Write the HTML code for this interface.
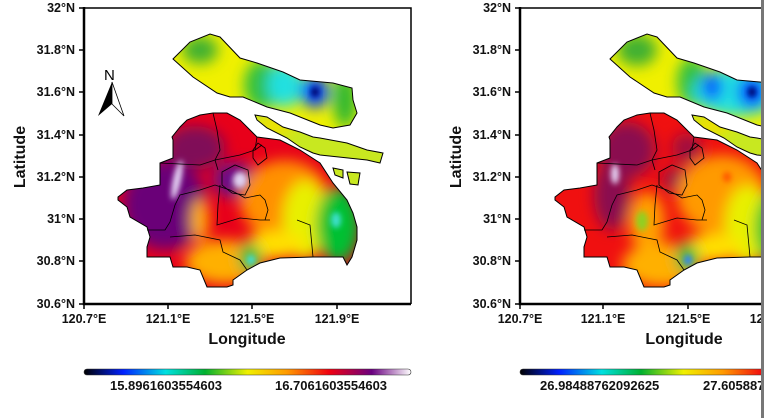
<!DOCTYPE html>
<html><head><meta charset="utf-8"><style>
html,body{margin:0;padding:0;background:#fff;}
svg{display:block;font-family:"Liberation Sans",Arial,sans-serif;}
.t{font-size:12.5px;font-weight:bold;fill:#111;}
.c{font-size:13px;font-weight:bold;fill:#111;}
.ax{font-size:16px;font-weight:bold;fill:#111;}
</style></head><body>
<svg width="764" height="418" viewBox="0 0 764 418" xmlns="http://www.w3.org/2000/svg">
<defs>
<filter id="bl" x="-50%" y="-50%" width="200%" height="200%"><feGaussianBlur stdDeviation="7"/></filter>
<filter id="bl2" x="-50%" y="-50%" width="200%" height="200%"><feGaussianBlur stdDeviation="3"/></filter>
<path id="main" d="M118,197 L127,190 143,188 160,185 160,163 173,158 173,140 172,137 180,127 187,120 200,115 213,113 227,113 240,120 257,137 280,140 300,150 320,163 333,183 347,200 353,213 357,227 357,240 352,257 347,265 343,257 313,257 280,258 260,263 247,270 233,280 233,285 227,287 207,287 200,270 187,267 173,267 170,257 160,257 147,257 147,247 150,237 147,227 130,217 127,207 118,200Z"/>
<path id="chong" d="M173,59 L190,42 210,34 220,37 240,58 257,63 283,72 300,80 333,83 352,88 353,100 357,113 350,125 333,128 320,125 290,113 267,107 243,97 230,97 217,93 193,77Z"/>
<path id="strip" d="M255,115 L267,117 283,127 300,132 313,137 320,138 347,143 367,150 383,153 380,163 367,160 320,155 313,153 300,147 287,138 267,128 257,120Z"/>
<path id="isl" d="M333,168 L343,170 343,178 335,175Z M347,172 L360,173 358,185 350,184Z"/>
<clipPath id="cm"><use href="#main"/></clipPath>
<clipPath id="cc"><use href="#chong"/></clipPath>
<clipPath id="cs"><use href="#strip"/><use href="#isl"/></clipPath>
<clipPath id="rp"><rect x="440" y="0" width="321" height="418"/></clipPath>
<linearGradient id="cb" x1="0" x2="1" y1="0" y2="0">
<stop offset="0" stop-color="#000"/><stop offset="0.12" stop-color="#0020ff"/><stop offset="0.25" stop-color="#00e0e0"/>
<stop offset="0.37" stop-color="#00b030"/><stop offset="0.5" stop-color="#f0f000"/><stop offset="0.62" stop-color="#ff9a00"/>
<stop offset="0.75" stop-color="#f00010"/><stop offset="0.88" stop-color="#6a0080"/><stop offset="1" stop-color="#fff"/>
</linearGradient>
<g id="lines" fill="none" stroke="#000" stroke-width="0.8">
<polyline points="213,113 217,130 220,150 215,160 218,170"/>
<polyline points="160,163 200,165 215,160 240,155 255,150 262,145"/>
<polygon points="253,150 258,143 265,148 267,158 258,165 253,158"/>
<polyline points="147,230 165,230 170,222 175,205 180,195 200,190 215,185 230,190 240,195 245,198"/>
<polygon points="222,172 235,165 248,170 250,185 245,195 232,193 222,185"/>
<polyline points="220,185 218,205 217,225 240,218 260,220 270,220"/>
<polyline points="170,237 195,235 220,240 223,252 240,260 247,270"/>
<polyline points="297,220 310,225 313,257"/>
<polyline points="245,198 260,195 265,200 268,210 265,220"/>
<polyline points="257,137 255,150"/>
</g>
<g id="outl" fill="none" stroke="#000" stroke-width="1">
<use href="#main"/><use href="#chong"/><use href="#strip"/><use href="#isl"/>
</g>
<g id="arrow">
<text x="104" y="80" font-size="15" font-family="Liberation Sans">N</text>
<polygon points="112,82 98,116 112,104" fill="#000"/>
<polygon points="112,82 124,116 112,104" fill="#fff" stroke="#000" stroke-width="0.8"/>
</g>
</defs>

<!-- LEFT PANEL -->
<g clip-path="url(#cm)"><rect x="100" y="100" width="270" height="200" fill="#e8001a"/>
<g filter="url(#bl)">
<ellipse cx="165" cy="205" rx="42" ry="45" fill="#6a0078"/>
<ellipse cx="195" cy="148" rx="30" ry="22" fill="#800a58"/>
<ellipse cx="235" cy="180" rx="22" ry="18" fill="#6a1088"/>
<ellipse cx="285" cy="200" rx="45" ry="40" fill="#ff9000"/>
<ellipse cx="305" cy="220" rx="22" ry="40" fill="#e8f000"/>
<ellipse cx="338" cy="225" rx="22" ry="38" fill="#00c030"/>
<ellipse cx="200" cy="220" rx="9" ry="22" fill="#ffb000"/>
<ellipse cx="225" cy="262" rx="40" ry="22" fill="#ffb000"/>
<ellipse cx="275" cy="245" rx="30" ry="14" fill="#ffe000"/>
<ellipse cx="250" cy="258" rx="11" ry="15" fill="#10b840"/>
</g>
<g filter="url(#bl2)">
<ellipse cx="177" cy="180" rx="4" ry="20" fill="#e8d8f8" transform="rotate(12 177 180)"/>
<ellipse cx="240" cy="180" rx="7" ry="8" fill="#e0d0f0"/>
<ellipse cx="336" cy="220" rx="5" ry="8" fill="#40e0d0"/>
<ellipse cx="251" cy="260" rx="4" ry="5" fill="#40e0e0"/>
</g></g>
<g clip-path="url(#cc)"><rect x="170" y="30" width="190" height="100" fill="#f0f000"/>
<g filter="url(#bl)">
<ellipse cx="200" cy="50" rx="18" ry="14" fill="#40b030"/>
<ellipse cx="262" cy="85" rx="18" ry="25" fill="#30c040"/>
<ellipse cx="285" cy="85" rx="18" ry="22" fill="#20e0e0"/>
<ellipse cx="315" cy="92" rx="14" ry="16" fill="#0040ff"/>
<ellipse cx="345" cy="100" rx="12" ry="28" fill="#30b830"/>
</g>
<ellipse cx="315" cy="92" rx="4" ry="5" fill="#000060" filter="url(#bl2)"/>
</g>
<g clip-path="url(#cs)"><rect x="250" y="110" width="140" height="80" fill="#c8e820"/>
<ellipse cx="275" cy="125" rx="20" ry="10" fill="#f0e000" filter="url(#bl)"/></g>
<use href="#lines"/><use href="#outl"/><use href="#arrow"/>
<g stroke="#000" fill="none">
<path d="M84,8 H411 V304" stroke-width="1.5"/>
<path d="M84,7 V304 H411" stroke-width="2.5"/>
<path d="M79,8 H84 M79,50 H84 M79,92 H84 M79,135 H84 M79,177 H84 M79,219 H84 M79,261 H84 M79,304 H84 M84,304 V309 M168,304 V309 M252,304 V309 M337,304 V309" stroke-width="1.5"/>
</g>
<g class="t" text-anchor="end">
<text x="75" y="12">32°N</text><text x="75" y="54">31.8°N</text><text x="75" y="96">31.6°N</text><text x="75" y="139">31.4°N</text>
<text x="75" y="181">31.2°N</text><text x="75" y="223">31°N</text><text x="75" y="265">30.8°N</text><text x="75" y="308">30.6°N</text>
</g>
<g class="t" text-anchor="middle">
<text x="84" y="323">120.7°E</text><text x="168" y="323">121.1°E</text><text x="252" y="323">121.5°E</text><text x="337" y="323">121.9°E</text>
</g>
<text class="ax" x="247" y="344" text-anchor="middle">Longitude</text>
<text class="ax" x="25" y="157" text-anchor="middle" transform="rotate(-90 25 157)">Latitude</text>
<rect x="84" y="369" width="327" height="6" rx="3" fill="url(#cb)" stroke="#333" stroke-width="0.6"/>
<text class="c" x="166" y="390" text-anchor="middle">15.8961603554603</text>
<text class="c" x="331" y="390" text-anchor="middle">16.7061603554603</text>

<!-- RIGHT PANEL -->
<g clip-path="url(#rp)">
<g transform="translate(437,0)">
<g clip-path="url(#cm)"><rect x="100" y="100" width="270" height="200" fill="#f01010"/>
<g filter="url(#bl)">
<ellipse cx="190" cy="150" rx="28" ry="28" fill="#8a0850"/>
<ellipse cx="175" cy="195" rx="18" ry="35" fill="#8a0850"/>
<ellipse cx="250" cy="148" rx="15" ry="15" fill="#a01040"/>
<ellipse cx="240" cy="180" rx="14" ry="12" fill="#901048"/>
<ellipse cx="285" cy="195" rx="45" ry="40" fill="#ff9a00"/>
<ellipse cx="310" cy="225" rx="22" ry="40" fill="#e8f000"/>
<ellipse cx="340" cy="228" rx="22" ry="38" fill="#00c030"/>
<ellipse cx="210" cy="222" rx="18" ry="30" fill="#ffa000"/>
<ellipse cx="225" cy="265" rx="40" ry="22" fill="#ffb000"/>
<ellipse cx="275" cy="248" rx="30" ry="14" fill="#ffe000"/>
<ellipse cx="250" cy="258" rx="11" ry="15" fill="#10b840"/>
</g>
<g filter="url(#bl2)">
<ellipse cx="178" cy="174" rx="4" ry="10" fill="#e8d8f8"/>
<ellipse cx="205" cy="221" rx="6" ry="10" fill="#90d020"/>
<ellipse cx="251" cy="260" rx="4" ry="5" fill="#3080ff"/>
<ellipse cx="290" cy="177" rx="4" ry="5" fill="#ff5000"/>
</g></g>
<g clip-path="url(#cc)"><rect x="170" y="30" width="190" height="100" fill="#f0f000"/>
<g filter="url(#bl)">
<ellipse cx="200" cy="50" rx="20" ry="16" fill="#40b030"/>
<ellipse cx="255" cy="82" rx="15" ry="25" fill="#30c040"/>
<ellipse cx="300" cy="92" rx="45" ry="24" fill="#20e0e0"/>
<ellipse cx="275" cy="87" rx="10" ry="14" fill="#0050ff"/>
<ellipse cx="315" cy="92" rx="14" ry="16" fill="#0040ff"/>
</g>
<ellipse cx="315" cy="92" rx="4" ry="5" fill="#000060" filter="url(#bl2)"/>
</g>
<g clip-path="url(#cs)"><rect x="250" y="110" width="140" height="80" fill="#c8e820"/>
<ellipse cx="275" cy="125" rx="20" ry="10" fill="#f0e000" filter="url(#bl)"/></g>
<use href="#lines"/><use href="#outl"/>
</g>
<g stroke="#000" fill="none">
<path d="M520,8 H770" stroke-width="1.5"/>
<path d="M520,7 V304 H770" stroke-width="2.5"/>
<path d="M515,8 H520 M515,50 H520 M515,92 H520 M515,135 H520 M515,177 H520 M515,219 H520 M515,261 H520 M515,304 H520 M520,304 V309 M603,304 V309 M688,304 V309" stroke-width="1.5"/>
</g>
<g class="t" text-anchor="end">
<text x="511" y="12">32°N</text><text x="511" y="54">31.8°N</text><text x="511" y="96">31.6°N</text><text x="511" y="139">31.4°N</text>
<text x="511" y="181">31.2°N</text><text x="511" y="223">31°N</text><text x="511" y="265">30.8°N</text><text x="511" y="308">30.6°N</text>
</g>
<g class="t" text-anchor="middle">
<text x="520" y="323">120.7°E</text><text x="603" y="323">121.1°E</text><text x="688" y="323">121.5°E</text><text x="772" y="323">121.9°E</text>
</g>
<text class="ax" x="684" y="344" text-anchor="middle">Longitude</text>
<text class="ax" x="461" y="157" text-anchor="middle" transform="rotate(-90 461 157)">Latitude</text>
<rect x="520" y="369" width="327" height="6" rx="3" fill="url(#cb)" stroke="#333" stroke-width="0.6"/>
<text class="c" x="540" y="390">26.98488762092625</text>
<text class="c" x="703" y="390">27.60588762092625</text>
</g>
<rect x="761" y="0" width="3" height="418" fill="#777"/>
</svg>
</body></html>
